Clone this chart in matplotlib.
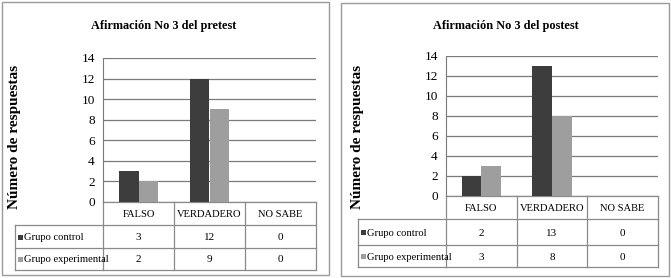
import matplotlib
matplotlib.use("Agg")
import matplotlib.pyplot as plt
from matplotlib.patches import Rectangle

categories = ["FALSO", "VERDADERO", "NO SABE"]
series_names = ["Grupo control", "Grupo experimental"]
pre_control = [3, 12, 0]
pre_experimental = [2, 9, 0]
post_control = [2, 13, 0]
post_experimental = [3, 8, 0]
titles = ["Afirmación No 3 del pretest", "Afirmación No 3 del postest"]
ylabel = "Número de respuestas"
yticks = [0, 2, 4, 6, 8, 10, 12, 14]

colors = ["#3d3d3d", "#9e9e9e"]
grid_col = "#7a7a7a"
W, H = 671, 278

plt.rcParams['font.family'] = ['Liberation Serif', 'DejaVu Serif']
fig = plt.figure(figsize=(W / 100, H / 100), dpi=100)


def px_axes(x0, y0, x1, y1):
    return fig.add_axes([x0 / W, 1 - y1 / H, (x1 - x0) / W, (y1 - y0) / H])


overlay = px_axes(0, 0, W, H)
overlay.set_xlim(0, W)
overlay.set_ylim(H, 0)
overlay.axis('off')

panels = [
    dict(frame=(2, 2, 329, 275), plot=(103, 58, 316, 202), tleft=15,
         rows=[202, 225, 248, 270], title_xy=(164, 26), ylab_x=15,
         data=[pre_control, pre_experimental], title=titles[0]),
    dict(frame=(341, 3, 669, 276), plot=(446, 56, 658, 196), tleft=358,
         rows=[196, 219, 245, 267], title_xy=(506, 26), ylab_x=358,
         data=[post_control, post_experimental], title=titles[1]),
]

bw = 0.28
for p in panels:
    fx0, fy0, fx1, fy1 = p['frame']
    overlay.add_patch(Rectangle((fx0, fy0), fx1 - fx0, fy1 - fy0, fill=False,
                                edgecolor="#9a9a9a", lw=1.0))
    overlay.text(*p['title_xy'], p['title'], ha='center', va='center',
                 fontsize=8.8, fontweight='bold')
    px0, py0, px1, py1 = p['plot']
    overlay.text(p['ylab_x'], 137, ylabel, rotation=90,
                 ha='center', va='center', fontsize=11, fontweight='bold')

    ax = px_axes(px0, py0, px1, py1)
    ax.set_facecolor('none')
    ax.set_xlim(0, 3)
    ax.set_ylim(0, 14)
    ax.set_yticks(yticks)
    ax.set_xticks([])
    for i, vals in enumerate(p['data']):
        xs = [k + 0.5 + (i - 0.5) * bw for k in range(len(categories))]
        ax.bar(xs, vals, width=bw, color=colors[i], zorder=3)
    ax.yaxis.grid(True, color=grid_col, lw=0.9, zorder=0)
    for s in ['top', 'right', 'bottom']:
        ax.spines[s].set_visible(False)
    ax.spines['left'].set_color(grid_col)
    ax.tick_params(axis='y', length=0, pad=6, labelsize=9.5)

    # data table
    tl = p['tleft']
    r = p['rows']
    colx = [px0 + (px1 - px0) * k / 3 for k in range(4)]
    lc = "#8a8a8a"
    overlay.plot([px0, px1], [r[0], r[0]], color=lc, lw=0.9)
    for x in colx:
        overlay.plot([x, x], [r[0], r[-1]], color=lc, lw=0.9)
    for y in r[1:]:
        overlay.plot([tl, px1], [y, y], color=lc, lw=0.9)
    overlay.plot([tl, tl], [r[1], r[-1]], color=lc, lw=0.9)
    for k, c in enumerate(categories):
        overlay.text((colx[k] + colx[k + 1]) / 2, (r[0] + r[1]) / 2 + 1, c,
                     ha='center', va='center', fontsize=7.6)
    for i, vals in enumerate(p['data']):
        yc = (r[i + 1] + r[i + 2]) / 2 + 1
        overlay.add_patch(Rectangle((tl + 3, yc - 3), 5, 5, color=colors[i], lw=0))
        overlay.text(tl + 9, yc, series_names[i], ha='left', va='center',
                     fontsize=7.6)
        for k, v in enumerate(vals):
            overlay.text((colx[k] + colx[k + 1]) / 2, yc, str(v),
                         ha='center', va='center', fontsize=8)

fig.savefig("out.png", dpi=100)
